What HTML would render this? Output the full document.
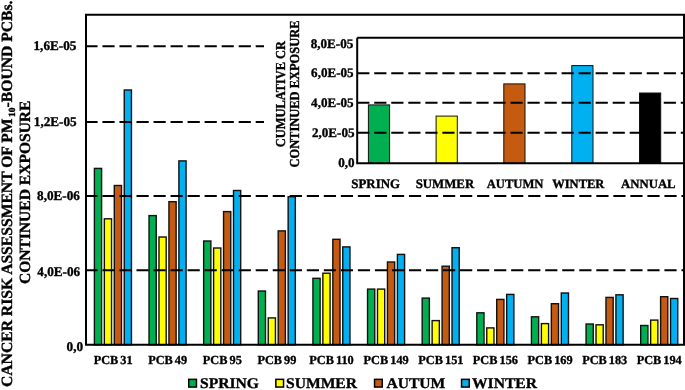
<!DOCTYPE html>
<html><head><meta charset="utf-8"><style>
html,body{margin:0;padding:0;background:#fff;}
body{width:685px;height:390px;overflow:hidden;font-family:"Liberation Serif",serif;}
svg{display:block;will-change:transform;} text{text-rendering:geometricPrecision;}
</style></head><body>
<svg width="685" height="390" viewBox="0 0 685 390">
<rect x="0" y="0" width="685" height="390" fill="#fff"/>
<rect x="94.40" y="168.40" width="7.20" height="176.40" fill="#00b050" stroke="#111" stroke-width="1.4"/>
<rect x="104.35" y="218.80" width="7.20" height="126.00" fill="#ffff00" stroke="#111" stroke-width="1.4"/>
<rect x="114.30" y="185.50" width="7.20" height="159.30" fill="#c55a11" stroke="#111" stroke-width="1.4"/>
<rect x="124.25" y="90.00" width="7.20" height="254.80" fill="#00b0f0" stroke="#111" stroke-width="1.4"/>
<rect x="149.03" y="215.60" width="7.20" height="129.20" fill="#00b050" stroke="#111" stroke-width="1.4"/>
<rect x="158.98" y="237.00" width="7.20" height="107.80" fill="#ffff00" stroke="#111" stroke-width="1.4"/>
<rect x="168.93" y="201.70" width="7.20" height="143.10" fill="#c55a11" stroke="#111" stroke-width="1.4"/>
<rect x="178.88" y="160.90" width="7.20" height="183.90" fill="#00b0f0" stroke="#111" stroke-width="1.4"/>
<rect x="203.66" y="241.00" width="7.20" height="103.80" fill="#00b050" stroke="#111" stroke-width="1.4"/>
<rect x="213.61" y="248.00" width="7.20" height="96.80" fill="#ffff00" stroke="#111" stroke-width="1.4"/>
<rect x="223.56" y="211.60" width="7.20" height="133.20" fill="#c55a11" stroke="#111" stroke-width="1.4"/>
<rect x="233.51" y="190.50" width="7.20" height="154.30" fill="#00b0f0" stroke="#111" stroke-width="1.4"/>
<rect x="258.29" y="291.00" width="7.20" height="53.80" fill="#00b050" stroke="#111" stroke-width="1.4"/>
<rect x="268.24" y="317.90" width="7.20" height="26.90" fill="#ffff00" stroke="#111" stroke-width="1.4"/>
<rect x="278.19" y="230.90" width="7.20" height="113.90" fill="#c55a11" stroke="#111" stroke-width="1.4"/>
<rect x="288.14" y="196.70" width="7.20" height="148.10" fill="#00b0f0" stroke="#111" stroke-width="1.4"/>
<rect x="312.92" y="278.30" width="7.20" height="66.50" fill="#00b050" stroke="#111" stroke-width="1.4"/>
<rect x="322.87" y="273.20" width="7.20" height="71.60" fill="#ffff00" stroke="#111" stroke-width="1.4"/>
<rect x="332.82" y="239.30" width="7.20" height="105.50" fill="#c55a11" stroke="#111" stroke-width="1.4"/>
<rect x="342.77" y="246.90" width="7.20" height="97.90" fill="#00b0f0" stroke="#111" stroke-width="1.4"/>
<rect x="367.55" y="289.10" width="7.20" height="55.70" fill="#00b050" stroke="#111" stroke-width="1.4"/>
<rect x="377.50" y="289.10" width="7.20" height="55.70" fill="#ffff00" stroke="#111" stroke-width="1.4"/>
<rect x="387.45" y="262.00" width="7.20" height="82.80" fill="#c55a11" stroke="#111" stroke-width="1.4"/>
<rect x="397.40" y="254.40" width="7.20" height="90.40" fill="#00b0f0" stroke="#111" stroke-width="1.4"/>
<rect x="422.18" y="298.10" width="7.20" height="46.70" fill="#00b050" stroke="#111" stroke-width="1.4"/>
<rect x="432.13" y="320.60" width="7.20" height="24.20" fill="#ffff00" stroke="#111" stroke-width="1.4"/>
<rect x="442.08" y="266.20" width="7.20" height="78.60" fill="#c55a11" stroke="#111" stroke-width="1.4"/>
<rect x="452.03" y="247.70" width="7.20" height="97.10" fill="#00b0f0" stroke="#111" stroke-width="1.4"/>
<rect x="476.81" y="312.80" width="7.20" height="32.00" fill="#00b050" stroke="#111" stroke-width="1.4"/>
<rect x="486.76" y="327.90" width="7.20" height="16.90" fill="#ffff00" stroke="#111" stroke-width="1.4"/>
<rect x="496.71" y="299.40" width="7.20" height="45.40" fill="#c55a11" stroke="#111" stroke-width="1.4"/>
<rect x="506.66" y="294.40" width="7.20" height="50.40" fill="#00b0f0" stroke="#111" stroke-width="1.4"/>
<rect x="531.44" y="316.80" width="7.20" height="28.00" fill="#00b050" stroke="#111" stroke-width="1.4"/>
<rect x="541.39" y="323.60" width="7.20" height="21.20" fill="#ffff00" stroke="#111" stroke-width="1.4"/>
<rect x="551.34" y="303.70" width="7.20" height="41.10" fill="#c55a11" stroke="#111" stroke-width="1.4"/>
<rect x="561.29" y="293.00" width="7.20" height="51.80" fill="#00b0f0" stroke="#111" stroke-width="1.4"/>
<rect x="586.07" y="324.00" width="7.20" height="20.80" fill="#00b050" stroke="#111" stroke-width="1.4"/>
<rect x="596.02" y="324.80" width="7.20" height="20.00" fill="#ffff00" stroke="#111" stroke-width="1.4"/>
<rect x="605.97" y="297.40" width="7.20" height="47.40" fill="#c55a11" stroke="#111" stroke-width="1.4"/>
<rect x="615.92" y="294.80" width="7.20" height="50.00" fill="#00b0f0" stroke="#111" stroke-width="1.4"/>
<rect x="640.70" y="325.50" width="7.20" height="19.30" fill="#00b050" stroke="#111" stroke-width="1.4"/>
<rect x="650.65" y="320.10" width="7.20" height="24.70" fill="#ffff00" stroke="#111" stroke-width="1.4"/>
<rect x="660.60" y="296.70" width="7.20" height="48.10" fill="#c55a11" stroke="#111" stroke-width="1.4"/>
<rect x="670.55" y="298.50" width="7.20" height="46.30" fill="#00b0f0" stroke="#111" stroke-width="1.4"/>
<line x1="85.4" y1="46.3" x2="684.0" y2="46.3" stroke="#000" stroke-width="2" stroke-dasharray="12.2 4.83"/>
<line x1="85.4" y1="122.0" x2="684.0" y2="122.0" stroke="#000" stroke-width="2" stroke-dasharray="12.2 4.83"/>
<line x1="85.4" y1="196.1" x2="684.0" y2="196.1" stroke="#000" stroke-width="2" stroke-dasharray="12.2 4.83"/>
<line x1="85.4" y1="270.2" x2="684.0" y2="270.2" stroke="#000" stroke-width="2" stroke-dasharray="12.2 4.83"/>
<path d="M86.0 14.75 H684.0 V344.8 H86.0 Z" fill="none" stroke="#000" stroke-width="2"/>
<text x="33.52" y="50.10" font-family="Liberation Serif" font-weight="bold" stroke="#000" stroke-width="0.35" font-size="13.20">1,6E-05</text>
<text x="33.82" y="126.10" font-family="Liberation Serif" font-weight="bold" stroke="#000" stroke-width="0.35" font-size="13.20">1,2E-05</text>
<text x="37.05" y="200.30" font-family="Liberation Serif" font-weight="bold" stroke="#000" stroke-width="0.35" font-size="13.20">8,0E-06</text>
<text x="37.31" y="275.90" font-family="Liberation Serif" font-weight="bold" stroke="#000" stroke-width="0.35" font-size="13.20">4,0E-06</text>
<text x="66.58" y="350.90" font-family="Liberation Serif" font-weight="bold" stroke="#000" stroke-width="0.35" font-size="13.20">0,0</text>
<text x="93.65" y="363.60" font-family="Liberation Serif" font-weight="bold" stroke="#000" stroke-width="0.35" font-size="12.30" word-spacing="-1.0">PCB 31</text>
<text x="148.18" y="363.60" font-family="Liberation Serif" font-weight="bold" stroke="#000" stroke-width="0.35" font-size="12.30" word-spacing="-1.0">PCB 49</text>
<text x="202.82" y="363.60" font-family="Liberation Serif" font-weight="bold" stroke="#000" stroke-width="0.35" font-size="12.30" word-spacing="-1.0">PCB 95</text>
<text x="257.44" y="363.60" font-family="Liberation Serif" font-weight="bold" stroke="#000" stroke-width="0.35" font-size="12.30" word-spacing="-1.0">PCB 99</text>
<text x="309.34" y="363.60" font-family="Liberation Serif" font-weight="bold" stroke="#000" stroke-width="0.35" font-size="12.30" word-spacing="-1.0">PCB 110</text>
<text x="363.62" y="363.60" font-family="Liberation Serif" font-weight="bold" stroke="#000" stroke-width="0.35" font-size="12.30" word-spacing="-1.0">PCB 149</text>
<text x="418.36" y="363.60" font-family="Liberation Serif" font-weight="bold" stroke="#000" stroke-width="0.35" font-size="12.30" word-spacing="-1.0">PCB 151</text>
<text x="472.85" y="363.60" font-family="Liberation Serif" font-weight="bold" stroke="#000" stroke-width="0.35" font-size="12.30" word-spacing="-1.0">PCB 156</text>
<text x="527.51" y="363.60" font-family="Liberation Serif" font-weight="bold" stroke="#000" stroke-width="0.35" font-size="12.30" word-spacing="-1.0">PCB 169</text>
<text x="582.14" y="363.60" font-family="Liberation Serif" font-weight="bold" stroke="#000" stroke-width="0.35" font-size="12.30" word-spacing="-1.0">PCB 183</text>
<text x="636.66" y="363.60" font-family="Liberation Serif" font-weight="bold" stroke="#000" stroke-width="0.35" font-size="12.30" word-spacing="-1.0">PCB 194</text>
<rect x="188.75" y="379.35" width="7.7" height="7.7" fill="#00b050" stroke="#000" stroke-width="1.5"/>
<text transform="translate(200.08,388.0) scale(1,0.95)" font-family="Liberation Serif" font-weight="bold" stroke="#000" stroke-width="0.35" font-size="15.6">SPRING</text>
<rect x="275.85" y="379.35" width="7.7" height="7.7" fill="#ffff00" stroke="#000" stroke-width="1.5"/>
<text transform="translate(285.98,388.0) scale(1,0.95)" font-family="Liberation Serif" font-weight="bold" stroke="#000" stroke-width="0.35" font-size="15.6">SUMMER</text>
<rect x="374.55" y="379.35" width="7.7" height="7.7" fill="#c55a11" stroke="#000" stroke-width="1.5"/>
<text transform="translate(386.44,388.0) scale(1,0.95)" font-family="Liberation Serif" font-weight="bold" stroke="#000" stroke-width="0.35" font-size="15.6">AUTUM</text>
<rect x="461.55" y="379.35" width="7.7" height="7.7" fill="#00b0f0" stroke="#000" stroke-width="1.5"/>
<text transform="translate(471.97,388.0) scale(1,0.95)" font-family="Liberation Serif" font-weight="bold" stroke="#000" stroke-width="0.35" font-size="15.6">WINTER</text>
<text transform="translate(11.7,386.98) rotate(-90)" font-family="Liberation Serif" font-weight="bold" stroke="#000" stroke-width="0.35" font-size="15.65">CANCER RISK ASSESSMENT OF PM<tspan font-size="9.5" dx="1.5" dy="3.2">10</tspan><tspan dy="-3.2">-BOUND PCBs.</tspan></text>
<text transform="translate(29.80,284.10) rotate(-90) scale(1,1.0)" font-family="Liberation Serif" font-weight="bold" stroke="#000" stroke-width="0.35" font-size="15.55">CONTINUED EXPOSURE</text>
<rect x="264" y="17" width="420.0" height="175" fill="#fff"/>
<rect x="368.4" y="104.9" width="21.2" height="58.29999999999998" fill="#00b050" stroke="#111" stroke-width="1"/>
<rect x="436.1" y="116.1" width="21.2" height="47.099999999999994" fill="#ffff00" stroke="#111" stroke-width="1"/>
<rect x="503.8" y="83.9" width="21.2" height="79.29999999999998" fill="#c55a11" stroke="#111" stroke-width="1"/>
<rect x="571.8" y="65.6" width="21.2" height="97.6" fill="#00b0f0" stroke="#111" stroke-width="1"/>
<rect x="639.5" y="93.0" width="21.2" height="70.19999999999999" fill="#000000" stroke="#111" stroke-width="1"/>
<line x1="357.2" y1="73.2" x2="684.0" y2="73.2" stroke="#000" stroke-width="2" stroke-dasharray="12.2 4.83"/>
<line x1="357.2" y1="102.7" x2="684.0" y2="102.7" stroke="#000" stroke-width="2" stroke-dasharray="12.2 4.83"/>
<line x1="357.2" y1="132.8" x2="684.0" y2="132.8" stroke="#000" stroke-width="2" stroke-dasharray="12.2 4.83"/>
<path d="M357.2 37.7 H684.0 M357.2 37.7 V163.2 H684.0" fill="none" stroke="#000" stroke-width="2"/>
<path d="M684.0 14.75 V344.8" fill="none" stroke="#000" stroke-width="2"/>
<text x="310.69" y="47.70" font-family="Liberation Serif" font-weight="bold" stroke="#000" stroke-width="0.35" font-size="13.10">8,0E-05</text>
<text x="311.09" y="77.20" font-family="Liberation Serif" font-weight="bold" stroke="#000" stroke-width="0.35" font-size="13.10">6,0E-05</text>
<text x="311.09" y="106.80" font-family="Liberation Serif" font-weight="bold" stroke="#000" stroke-width="0.35" font-size="13.10">4,0E-05</text>
<text x="311.99" y="137.20" font-family="Liberation Serif" font-weight="bold" stroke="#000" stroke-width="0.35" font-size="13.10">2,0E-05</text>
<text x="338.19" y="167.30" font-family="Liberation Serif" font-weight="bold" stroke="#000" stroke-width="0.35" font-size="13.10">0,0</text>
<text x="351.30" y="187.60" font-family="Liberation Serif" font-weight="bold" stroke="#000" stroke-width="0.35" font-size="12.91">SPRING</text>
<text x="415.70" y="187.60" font-family="Liberation Serif" font-weight="bold" stroke="#000" stroke-width="0.35" font-size="12.85">SUMMER</text>
<text x="486.65" y="187.60" font-family="Liberation Serif" font-weight="bold" stroke="#000" stroke-width="0.35" font-size="12.63">AUTUMN</text>
<text x="552.19" y="187.60" font-family="Liberation Serif" font-weight="bold" stroke="#000" stroke-width="0.35" font-size="12.54">WINTER</text>
<text x="621.05" y="187.60" font-family="Liberation Serif" font-weight="bold" stroke="#000" stroke-width="0.35" font-size="12.75">ANNUAL</text>
<text transform="translate(284.60,147.14) rotate(-90) scale(1,1.1)" font-family="Liberation Serif" font-weight="bold" stroke="#000" stroke-width="0.35" font-size="12.40">CUMULATIVE CR</text>
<text transform="translate(299.40,167.55) rotate(-90) scale(1,1.1)" font-family="Liberation Serif" font-weight="bold" stroke="#000" stroke-width="0.35" font-size="12.46">CONTINUED EXPOSURE</text>
</svg>
</body></html>
